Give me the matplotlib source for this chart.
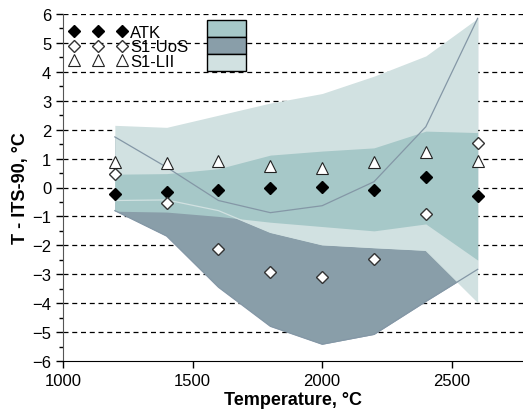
import matplotlib
matplotlib.use('Agg')
import matplotlib.pyplot as plt
from matplotlib.patches import Rectangle
from matplotlib.lines import Line2D
from matplotlib.ticker import MultipleLocator

plt.rcParams['font.family'] = ['Liberation Sans', 'DejaVu Sans']

temps = [1200, 1400, 1600, 1800, 2000, 2200, 2400, 2600]
atk = [-0.23, -0.17, -0.09, -0.03, 0.03, -0.07, 0.38, -0.28]
uos = [0.47, -0.52, -2.12, -2.92, -3.08, -2.48, -0.9, 1.55]
lii = [0.88, 0.83, 0.93, 0.74, 0.68, 0.89, 1.24, 0.93]

atk_upper = [0.46, 0.48, 0.65, 1.12, 1.26, 1.37, 1.95, 1.9]
atk_lower = [-0.82, -0.85, -1.0, -1.2, -1.35, -1.5, -1.26, -2.51]
uos_upper = [1.75, 0.7, -0.45, -0.87, -0.63, 0.2, 2.1, 5.85]
uos_lower = [-0.8, -1.68, -3.45, -4.8, -5.42, -5.08, -3.94, -2.83]
lii_upper = [2.15, 2.08, 2.5, 2.92, 3.25, 3.85, 4.55, 5.85]
lii_lower = [-0.45, -0.43, -0.8, -1.55, -1.98, -2.08, -2.17, -3.95]

series_names = ['ATK', 'S1-UoS', 'S1-LII']
x_ticks = [1000, 1500, 2000, 2500]
y_ticks = list(range(-6, 7))

c_med = '#a6c8c8'
c_dark = '#899ea9'
c_light = '#d1e1e1'
c_line = '#8497a6'

fig = plt.figure(figsize=(5.23, 4.14), dpi=100)
ax = fig.add_axes([63/523, 52/414, 1 - 63/523, (362-15)/414])

ax.set_xlim(1000, 2775)
ax.set_ylim(-6, 6)

for yv in y_ticks[1:]:
    ax.axhline(yv, color='black', lw=0.9, ls=(0, (4, 3)), zorder=0)

ax.fill_between(temps, uos_lower, uos_upper, color=c_dark, lw=0, zorder=1)
ax.fill_between(temps, lii_lower, lii_upper, color=c_light, lw=0, zorder=2)
ax.fill_between(temps, atk_lower, atk_upper, color=c_med, lw=0, zorder=3)

ax.plot(temps, uos_upper, color=c_line, lw=0.9, zorder=4)
ax.plot(temps, uos_lower, color=c_line, lw=0.9, zorder=4)
ax.plot(temps, lii_lower, color=c_light, lw=0.9, zorder=3.5)

ax.plot(temps, atk, ls='none', marker='D', ms=6, mfc='black', mec='black', zorder=6)
ax.plot(temps, uos, ls='none', marker='D', ms=6, mfc='white', mec='#333333', mew=1.0, zorder=6)
ax.plot(temps, lii, ls='none', marker='^', ms=8.5, mfc='white', mec='#222222', mew=0.8, zorder=6)

ax.set_xticks(x_ticks)
ax.set_yticks(y_ticks)
ax.yaxis.set_minor_locator(MultipleLocator(0.5))
ax.tick_params(axis='both', which='major', labelsize=12, length=5, direction='out', width=1)
ax.tick_params(axis='y', which='minor', length=3, direction='out', width=1)
for s in ['top', 'right']:
    ax.spines[s].set_visible(False)
ax.spines['left'].set_color('#555555')
ax.spines['bottom'].set_color('black')

ax.set_xlabel('Temperature, °C', fontsize=13, fontweight='bold', labelpad=2)
ax.set_ylabel('T - ITS-90, °C', fontsize=13, fontweight='bold', labelpad=2)

handles = [
    Line2D([], [], ls='none', marker='D', ms=6.5, mfc='black', mec='black'),
    Line2D([], [], ls='none', marker='D', ms=6.5, mfc='white', mec='#333333'),
    Line2D([], [], ls='none', marker='^', ms=8.5, mfc='white', mec='#222222', mew=0.8),
]
leg = ax.legend(handles, series_names, loc='upper left', bbox_to_anchor=(69/523, 1 - 26/414),
                bbox_transform=fig.transFigure, numpoints=3, handlelength=3.5, handletextpad=0.15,
                labelspacing=-0.04, frameon=False, fontsize=12, borderpad=0, borderaxespad=0)

for i, col in enumerate([c_med, c_dark, c_light]):
    y0 = 414 - 21 - 17 * (i + 1)
    fig.patches.append(Rectangle((207/523, y0/414), 39/523, 17/414, transform=fig.transFigure,
                                 facecolor=col, edgecolor='black', lw=1, zorder=10))

fig.savefig('out.png', dpi=100)
